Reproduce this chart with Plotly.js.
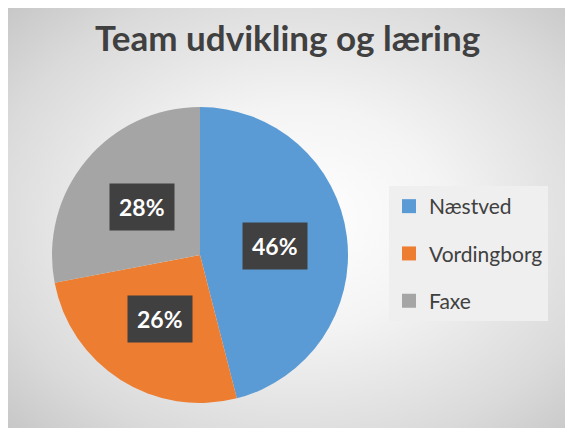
<!DOCTYPE html>
<html>
<head>
<meta charset="utf-8">
<script src="https://cdn.plot.ly/plotly-3.0.1.min.js"></script>
<style>
html,body{margin:0;padding:0;background:#ffffff;width:565px;height:428px;overflow:hidden;}
#wrap{position:absolute;left:8px;top:8px;width:557px;height:420px;
background:radial-gradient(ellipse 75% 75% at 52% 50%, #ffffff 0%, #f4f4f4 35%, #dadada 75%, #c4c4c4 100%);}
#chart{position:absolute;left:0;top:0;width:557px;height:420px;}
</style>
</head>
<body>
<div id="wrap"><div id="chart"></div></div>
<script>
var categories = ["Næstved", "Vordingborg", "Faxe"];
var values = [46, 26, 28];
var colors = ["#5b9bd5", "#ed7d31", "#a5a5a5"];
var chartTitle = "Team udvikling og læring";

var W = 557, H = 420;
var cx = 192, cy = 247, R = 148; // pixel geometry of pie (top-left origin)
var dom = {x: [(cx - R) / W, (cx + R) / W], y: [(H - cy - R) / H, (H - cy + R) / H]};

var total = values.reduce(function(a, b){ return a + b; }, 0);
var traces = [{
  type: "pie",
  labels: categories,
  values: values,
  marker: {colors: colors, line: {width: 0}},
  sort: false,
  direction: "clockwise",
  rotation: 0,
  textinfo: "none",
  hoverinfo: "label+percent",
  showlegend: false,
  domain: dom
}];
categories.forEach(function(c, i){
  traces.push({
    type: "scatter", mode: "markers", x: [null], y: [null],
    name: c, legendgroup: c,
    marker: {symbol: "square", size: 14, color: colors[i]},
    hoverinfo: "skip"
  });
});

var annotations = [];
var cum = 0;
values.forEach(function(v, i){
  var mid = (cum + v / 2) / total * 2 * Math.PI;
  cum += v;
  var r = 0.51 * R;
  var px = cx + r * Math.sin(mid);
  var py = cy - r * Math.cos(mid);
  annotations.push({
    xref: "paper", yref: "paper",
    x: px / W, y: 1 - py / H,
    xanchor: "center", yanchor: "middle",
    text: "<b>" + Math.round(v / total * 100) + "%</b>",
    showarrow: false,
    font: {family: "Lato, 'Open Sans', sans-serif", size: 23, color: "#ffffff"},
    bgcolor: "#404040",
    borderpad: 9
  });
});

var layout = {
  width: W, height: H,
  margin: {l: 0, r: 0, t: 0, b: 0},
  paper_bgcolor: "rgba(0,0,0,0)",
  plot_bgcolor: "rgba(0,0,0,0)",
  title: {text: "<b>" + chartTitle + "</b>", x: 0.502, xanchor: "center", y: 1 - 31 / H, yanchor: "middle",
          font: {family: "Lato, 'Open Sans', sans-serif", size: 35, color: "#404040"}},
  xaxis: {visible: false, domain: [0.7, 0.71]},
  yaxis: {visible: false, domain: [0.7, 0.71]},
  showlegend: true,
  legend: {
    x: 381 / W, xanchor: "left", y: 1 - 178 / H, yanchor: "top",
    bgcolor: "#efefef", borderwidth: 0,
    font: {family: "Lato, 'Open Sans', sans-serif", size: 21, color: "#404040"},
    tracegroupgap: 17, traceorder: "grouped",
    itemwidth: 30
  },
  annotations: annotations
};
Plotly.newPlot("chart", traces, layout, {displayModeBar: false, staticPlot: true});
</script>
</body>
</html>
